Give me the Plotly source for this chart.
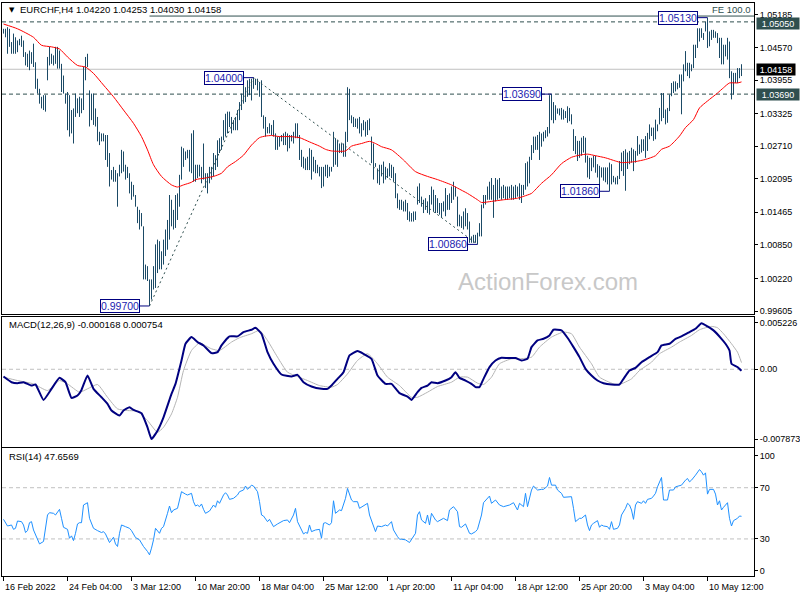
import plotly.graph_objects as go

W, H = 800, 600
FONT = "Liberation Sans, Arial, sans-serif"

# ---------------- data ----------------
SYMBOL = "EURCHF,H4"
LAST_OPEN, LAST_HIGH, LAST_LOW, LAST_CLOSE = 1.04220, 1.04253, 1.04030, 1.04158
MACD_LAST, SIGNAL_LAST = -0.000168, 0.000754
RSI_LAST = 47.6569

HIGH = [
    1.0492, 1.0492, 1.0495, 1.0492, 1.0467, 1.0483, 1.0476, 1.0470, 1.0473, 1.0479,
    1.0470, 1.0448, 1.0445, 1.0451, 1.0448, 1.0464, 1.0429, 1.0398, 1.0379, 1.0364,
    1.0367, 1.0367, 1.0439, 1.0458, 1.0445, 1.0442, 1.0458, 1.0458, 1.0451, 1.0426,
    1.0404, 1.0370, 1.0373, 1.0367, 1.0339, 1.0342, 1.0370, 1.0361, 1.0364, 1.0361,
    1.0420, 1.0439, 1.0445, 1.0376, 1.0370, 1.0370, 1.0342, 1.0326, 1.0298, 1.0295,
    1.0295, 1.0292, 1.0292, 1.0258, 1.0226, 1.0232, 1.0226, 1.0220, 1.0236, 1.0264,
    1.0261, 1.0236, 1.0232, 1.0220, 1.0204, 1.0198, 1.0179, 1.0157, 1.0151, 1.0145,
    1.0120, 1.0048, 1.0045, 1.0020, 1.0020, 1.0045, 1.0086, 1.0095, 1.0092, 1.0073,
    1.0095, 1.0114, 1.0132, 1.0179, 1.0170, 1.0151, 1.0179, 1.0182, 1.0217, 1.0270,
    1.0267, 1.0261, 1.0264, 1.0264, 1.0295, 1.0301, 1.0236, 1.0236, 1.0236, 1.0232,
    1.0276, 1.0220, 1.0220, 1.0232, 1.0232, 1.0258, 1.0254, 1.0282, 1.0286, 1.0289,
    1.0320, 1.0332, 1.0336, 1.0336, 1.0326, 1.0320, 1.0326, 1.0339, 1.0354, 1.0370,
    1.0386, 1.0382, 1.0395, 1.0398, 1.0398, 1.0400, 1.0398, 1.0398, 1.0392, 1.0395,
    1.0329, 1.0326, 1.0307, 1.0314, 1.0311, 1.0320, 1.0295, 1.0289, 1.0289, 1.0292,
    1.0295, 1.0298, 1.0295, 1.0292, 1.0292, 1.0298, 1.0314, 1.0314, 1.0292, 1.0264,
    1.0251, 1.0248, 1.0251, 1.0267, 1.0264, 1.0251, 1.0245, 1.0236, 1.0232, 1.0232,
    1.0232, 1.0236, 1.0236, 1.0232, 1.0232, 1.0298, 1.0286, 1.0282, 1.0276, 1.0276,
    1.0276, 1.0298, 1.0382, 1.0379, 1.0329, 1.0326, 1.0323, 1.0323, 1.0326, 1.0314,
    1.0320, 1.0317, 1.0320, 1.0323, 1.0289, 1.0276, 1.0239, 1.0229, 1.0236, 1.0236,
    1.0242, 1.0232, 1.0229, 1.0239, 1.0236, 1.0232, 1.0220, 1.0182, 1.0170, 1.0170,
    1.0167, 1.0170, 1.0164, 1.0148, 1.0145, 1.0148, 1.0148, 1.0195, 1.0201, 1.0176,
    1.0170, 1.0173, 1.0167, 1.0179, 1.0195, 1.0189, 1.0179, 1.0173, 1.0164, 1.0164,
    1.0167, 1.0192, 1.0179, 1.0182, 1.0195, 1.0204, 1.0195, 1.0176, 1.0142, 1.0139,
    1.0148, 1.0154, 1.0145, 1.0129, 1.0101, 1.0104, 1.0104, 1.0108, 1.0126, 1.0161,
    1.0179, 1.0179, 1.0195, 1.0204, 1.0211, 1.0198, 1.0211, 1.0208, 1.0211, 1.0195,
    1.0198, 1.0195, 1.0195, 1.0195, 1.0198, 1.0195, 1.0198, 1.0195, 1.0201, 1.0198,
    1.0198, 1.0239, 1.0242, 1.0251, 1.0273, 1.0289, 1.0289, 1.0292, 1.0298, 1.0295,
    1.0298, 1.0301, 1.0307, 1.0367, 1.0369, 1.0354, 1.0348, 1.0342, 1.0342, 1.0343,
    1.0340, 1.0337, 1.0346, 1.0343, 1.0331, 1.0303, 1.0290, 1.0281, 1.0281, 1.0287,
    1.0290, 1.0287, 1.0253, 1.0249, 1.0249, 1.0253, 1.0253, 1.0237, 1.0234, 1.0231,
    1.0231, 1.0231, 1.0231, 1.0240, 1.0237, 1.0215, 1.0212, 1.0215, 1.0243, 1.0259,
    1.0262, 1.0265, 1.0259, 1.0262, 1.0268, 1.0265, 1.0262, 1.0290, 1.0274, 1.0284,
    1.0284, 1.0290, 1.0296, 1.0312, 1.0306, 1.0306, 1.0321, 1.0312, 1.0343, 1.0371,
    1.0371, 1.0340, 1.0343, 1.0368, 1.0390, 1.0393, 1.0393, 1.0390, 1.0406, 1.0406,
    1.0425, 1.0450, 1.0428, 1.0428, 1.0425, 1.0462, 1.0462, 1.0493, 1.0493, 1.0493,
    1.0484, 1.0505, 1.0513, 1.0487, 1.0490, 1.0490, 1.0487, 1.0484, 1.0475, 1.0475,
    1.0462, 1.0462, 1.0475, 1.0468, 1.0412, 1.0409, 1.0409, 1.0418, 1.0418, 1.04253,
]
LOW = [
    1.0483, 1.0476, 1.0445, 1.0458, 1.0445, 1.0445, 1.0445, 1.0448, 1.0461, 1.0458,
    1.0439, 1.0423, 1.0420, 1.0414, 1.0426, 1.0420, 1.0379, 1.0370, 1.0351, 1.0342,
    1.0339, 1.0336, 1.0395, 1.0423, 1.0426, 1.0423, 1.0426, 1.0417, 1.0417, 1.0373,
    1.0370, 1.0351, 1.0301, 1.0289, 1.0295, 1.0276, 1.0326, 1.0333, 1.0326, 1.0333,
    1.0339, 1.0395, 1.0420, 1.0308, 1.0320, 1.0311, 1.0308, 1.0280, 1.0273, 1.0280,
    1.0280, 1.0245, 1.0232, 1.0195, 1.0208, 1.0204, 1.0204, 1.0157, 1.0214, 1.0220,
    1.0223, 1.0208, 1.0211, 1.0182, 1.0170, 1.0176, 1.0157, 1.0126, 1.0114, 1.0120,
    1.0020, 1.0020, 1.0017, 0.9970, 0.9982, 1.0001, 1.0004, 1.0032, 1.0039, 1.0039,
    1.0048, 1.0064, 1.0076, 1.0095, 1.0120, 1.0114, 1.0117, 1.0132, 1.0157, 1.0208,
    1.0232, 1.0245, 1.0248, 1.0223, 1.0220, 1.0204, 1.0204, 1.0211, 1.0214, 1.0201,
    1.0208, 1.0192, 1.0182, 1.0201, 1.0208, 1.0214, 1.0226, 1.0232, 1.0258, 1.0264,
    1.0282, 1.0289, 1.0295, 1.0307, 1.0295, 1.0301, 1.0301, 1.0301, 1.0320, 1.0339,
    1.0351, 1.0354, 1.0364, 1.0367, 1.0357, 1.0379, 1.0386, 1.0376, 1.0364, 1.0326,
    1.0304, 1.0289, 1.0295, 1.0295, 1.0292, 1.0289, 1.0264, 1.0264, 1.0270, 1.0280,
    1.0273, 1.0273, 1.0261, 1.0267, 1.0280, 1.0276, 1.0286, 1.0286, 1.0245, 1.0232,
    1.0229, 1.0226, 1.0226, 1.0226, 1.0208, 1.0223, 1.0220, 1.0220, 1.0214, 1.0192,
    1.0195, 1.0214, 1.0211, 1.0214, 1.0223, 1.0232, 1.0236, 1.0232, 1.0258, 1.0258,
    1.0251, 1.0251, 1.0279, 1.0320, 1.0314, 1.0307, 1.0307, 1.0304, 1.0295, 1.0289,
    1.0301, 1.0289, 1.0292, 1.0301, 1.0239, 1.0208, 1.0232, 1.0201, 1.0198, 1.0214,
    1.0201, 1.0208, 1.0211, 1.0214, 1.0211, 1.0204, 1.0173, 1.0154, 1.0151, 1.0151,
    1.0148, 1.0148, 1.0132, 1.0129, 1.0129, 1.0129, 1.0132, 1.0161, 1.0164, 1.0157,
    1.0145, 1.0151, 1.0145, 1.0142, 1.0161, 1.0148, 1.0145, 1.0145, 1.0142, 1.0136,
    1.0148, 1.0139, 1.0151, 1.0151, 1.0164, 1.0170, 1.0176, 1.0120, 1.0120, 1.0117,
    1.0114, 1.0120, 1.0114, 1.0089, 1.0089, 1.0089, 1.0089, 1.0086, 1.0101, 1.0101,
    1.0154, 1.0161, 1.0170, 1.0170, 1.0170, 1.0136, 1.0167, 1.0170, 1.0173, 1.0170,
    1.0173, 1.0170, 1.0170, 1.0173, 1.0170, 1.0170, 1.0173, 1.0176, 1.0170, 1.0164,
    1.0179, 1.0189, 1.0195, 1.0201, 1.0245, 1.0258, 1.0264, 1.0264, 1.0245, 1.0270,
    1.0280, 1.0286, 1.0289, 1.0295, 1.0320, 1.0314, 1.0320, 1.0332, 1.0329, 1.0321,
    1.0321, 1.0324, 1.0315, 1.0318, 1.0312, 1.0262, 1.0256, 1.0243, 1.0249, 1.0253,
    1.0259, 1.0240, 1.0212, 1.0209, 1.0224, 1.0231, 1.0221, 1.0212, 1.0196, 1.0212,
    1.0206, 1.0203, 1.0199, 1.0186, 1.0199, 1.0203, 1.0199, 1.0199, 1.0209, 1.0224,
    1.0215, 1.0187, 1.0228, 1.0237, 1.0240, 1.0224, 1.0240, 1.0253, 1.0256, 1.0259,
    1.0262, 1.0249, 1.0262, 1.0284, 1.0290, 1.0281, 1.0284, 1.0299, 1.0312, 1.0318,
    1.0324, 1.0312, 1.0315, 1.0337, 1.0365, 1.0371, 1.0374, 1.0378, 1.0381, 1.0331,
    1.0393, 1.0412, 1.0403, 1.0399, 1.0412, 1.0418, 1.0437, 1.0456, 1.0468, 1.0475,
    1.0471, 1.0487, 1.0456, 1.0459, 1.0471, 1.0475, 1.0475, 1.0465, 1.0437, 1.0425,
    1.0425, 1.0440, 1.0434, 1.0399, 1.0359, 1.0368, 1.0390, 1.0390, 1.0399, 1.04030,
]

MA_IDX = [0, 7, 15, 19, 24, 28, 32, 37, 41, 45, 50, 55, 60, 65, 69, 72, 75, 79, 84, 87,
          90, 94, 96, 101, 105, 109, 112, 116, 120, 124, 128, 131, 134, 138, 143, 148, 153,
          158, 161, 164, 171, 174, 179, 183, 186, 189, 194, 200, 206, 212, 217, 224, 227,
          232, 237, 239, 244, 250, 257, 262, 264, 269, 274, 279, 284, 288, 292, 296, 301,
          306, 309, 316, 321, 326, 329, 333, 338, 341, 345, 348, 352, 357, 360, 363, 367, 369]
MA_VAL = [1.0501, 1.0492, 1.0476, 1.0461, 1.0458, 1.0454, 1.0439, 1.0423, 1.0420, 1.0408,
          1.0386, 1.0364, 1.0339, 1.0314, 1.0289, 1.0264, 1.0236, 1.0214, 1.0198, 1.0194,
          1.0198, 1.0203, 1.0208, 1.0211, 1.0214, 1.0220, 1.0232, 1.0242, 1.0254, 1.0273,
          1.0287, 1.0290, 1.0291, 1.0289, 1.0289, 1.0287, 1.0279, 1.0271, 1.0265, 1.0262,
          1.0262, 1.0271, 1.0276, 1.0280, 1.0276, 1.0270, 1.0264, 1.0245, 1.0223, 1.0214,
          1.0208, 1.0198, 1.0192, 1.0182, 1.0170, 1.0165, 1.0167, 1.0170, 1.0173, 1.0179,
          1.0182, 1.0201, 1.0217, 1.0238, 1.0250, 1.0254, 1.0256, 1.0253, 1.0249, 1.0243,
          1.0240, 1.0242, 1.0246, 1.0253, 1.0265, 1.0271, 1.0290, 1.0306, 1.0321, 1.0343,
          1.0356, 1.0371, 1.0381, 1.0390, 1.0390, 1.0392]

MACD_IDX = [0, 4, 7, 10, 14, 16, 20, 24, 28, 31, 34, 37, 39, 42, 45, 49, 52, 54, 58, 60,
            63, 65, 69, 72, 74, 77, 80, 84, 86, 89, 91, 94, 97, 100, 104, 107, 109, 113,
            117, 120, 124, 126, 129, 132, 135, 139, 144, 147, 150, 154, 159, 162, 164, 167,
            170, 173, 177, 180, 184, 187, 191, 194, 198, 202, 204, 207, 209, 212, 214, 217,
            221, 224, 226, 228, 231, 234, 236, 238, 240, 243, 246, 249, 252, 256, 259, 262,
            264, 267, 270, 273, 275, 279, 282, 285, 288, 291, 294, 297, 300, 304, 308, 310,
            313, 316, 319, 323, 327, 329, 333, 336, 339, 343, 346, 349, 352, 355, 359, 361,
            363, 364, 367, 369]
MACD_VAL = [-0.00082, -0.00146, -0.00157, -0.00146, -0.00184, -0.00172, -0.00346, -0.00221,
            -0.00097, -0.00146, -0.00323, -0.00297, -0.00233, -0.00070, -0.00221, -0.00316,
            -0.00391, -0.00466, -0.00523, -0.00466, -0.00429, -0.00459, -0.00496, -0.00655,
            -0.00787, -0.00693, -0.00542, -0.00278, -0.00165, 0.00099, 0.00288, 0.00363,
            0.00307, 0.00269, 0.00182, 0.00193, 0.00269, 0.00371, 0.00371, 0.00420, 0.00446,
            0.00469, 0.00401, 0.00193, 0.00062, -0.00059, -0.00082, -0.00063, -0.00146,
            -0.00195, -0.00221, -0.00221, -0.00184, -0.00108, -0.00033, 0.00156, 0.00205,
            0.00175, 0.00118, -0.00070, -0.00165, -0.00165, -0.00270, -0.00308, -0.00346,
            -0.00259, -0.00210, -0.00184, -0.00146, -0.00157, -0.00127, -0.00089, -0.00033,
            -0.00097, -0.00127, -0.00165, -0.00202, -0.00202, -0.00108, 0.00024, 0.00099,
            0.00129, 0.00126, 0.00126, 0.00099, 0.00118, 0.00250, 0.00325, 0.00344, 0.00382,
            0.00446, 0.00439, 0.00356, 0.00250, 0.00137, 0.00005, -0.00070, -0.00127,
            -0.00157, -0.00172, -0.00172, -0.00108, -0.00014, 0.00016, 0.00080, 0.00137,
            0.00193, 0.00269, 0.00288, 0.00344, 0.00371, 0.00420, 0.00457, 0.00520, 0.00484,
            0.00439, 0.00344, 0.00288, 0.00212, 0.00062, 0.00024, -0.000168]

SIG_IDX = [0, 7, 15, 22, 28, 32, 38, 42, 47, 52, 57, 62, 67, 72, 77, 80, 84, 87, 90, 94,
           98, 104, 108, 114, 118, 124, 128, 132, 137, 142, 147, 152, 158, 164, 167, 172,
           177, 182, 187, 192, 198, 204, 207, 212, 217, 224, 228, 232, 237, 240, 244, 248,
           254, 258, 264, 268, 274, 280, 284, 288, 294, 298, 305, 308, 314, 318, 324, 328,
           334, 338, 344, 348, 354, 357, 360, 364, 367, 369]
SIG_VAL = [-0.00089, -0.00127, -0.00165, -0.00240, -0.00127, -0.00165, -0.00259, -0.00221,
           -0.00172, -0.00316, -0.00447, -0.00466, -0.00474, -0.00579, -0.00711, -0.00655,
           -0.00504, -0.00316, -0.00014, 0.00212, 0.00295, 0.00231, 0.00212, 0.00307,
           0.00356, 0.00401, 0.00439, 0.00325, 0.00137, -0.00033, -0.00082, -0.00127,
           -0.00184, -0.00202, -0.00172, -0.00052, 0.00099, 0.00175, 0.00062, -0.00089,
           -0.00184, -0.00316, -0.00316, -0.00259, -0.00195, -0.00146, -0.00089, -0.00089,
           -0.00157, -0.00172, -0.00089, 0.00062, 0.00118, 0.00118, 0.00137, 0.00250,
           0.00363, 0.00420, 0.00401, 0.00250, 0.00062, -0.00089, -0.00165, -0.00172,
           -0.00108, -0.00014, 0.00080, 0.00175, 0.00250, 0.00307, 0.00382, 0.00446,
           0.00484, 0.00469, 0.00401, 0.00288, 0.00193, 0.000754]

RSI_IDX = [0, 1, 2, 4, 5, 6, 7, 9, 10, 11, 12, 13, 14, 15, 17, 18, 20, 21, 22, 23, 25, 26,
           28, 29, 30, 32, 33, 34, 35, 36, 37, 38, 39, 40, 42, 43, 44, 45, 47, 49, 50, 51,
           53, 54, 55, 56, 57, 58, 59, 61, 63, 64, 65, 66, 68, 70, 72, 73, 74, 75, 76, 78,
           79, 80, 82, 83, 84, 85, 87, 88, 89, 91, 92, 94, 95, 96, 97, 98, 99, 100, 101,
           103, 104, 105, 106, 107, 108, 110, 111, 112, 113, 115, 117, 118, 120, 121, 122,
           123, 124, 125, 127, 128, 129, 130, 132, 133, 134, 135, 137, 138, 140, 142, 143,
           145, 146, 147, 149, 150, 151, 152, 153, 154, 156, 158, 159, 160, 161, 163, 164,
           165, 166, 168, 169, 170, 171, 172, 174, 175, 177, 178, 180, 182, 183, 185, 186,
           187, 189, 191, 192, 194, 195, 197, 198,
           199, 201, 203, 204, 206, 207, 208, 209, 211, 212, 213, 214, 216, 217, 219, 220,
           222, 223, 225, 227, 228, 229, 231, 233, 234, 236, 237, 239, 240, 241, 243, 244,
           246, 248, 250, 253, 255, 257, 258, 260, 261, 262, 264, 265, 267, 269, 270, 272,
           273, 274, 276, 277, 279, 280, 282, 284, 285, 286, 288, 289, 291, 292, 293, 294,
           295, 297, 298, 299, 300, 302, 303, 304, 305, 307, 308, 309, 311, 312, 313, 314,
           315, 316, 317, 319, 320, 321, 322, 324, 325, 326, 327, 329, 330, 332, 333, 335,
           336, 338, 339, 341, 342, 343, 344, 346, 348, 349, 350, 351, 352, 353, 355, 356,
           357, 358, 359, 360, 362, 363, 364, 365, 367, 368, 369]
RSI_VAL = [45.3, 42.2, 40.1, 40.9, 37.5, 38.3, 44.0, 43.5, 40.9, 35.0, 36.5, 42.7, 43.5,
           37.0, 30.5, 26.1, 28.0, 39.6, 48.7, 50.5, 50.0, 48.7, 53.1, 46.1, 39.1, 37.5,
           30.5, 32.4, 28.7, 34.4, 41.7, 42.7, 42.7, 56.5, 58.3, 46.1, 42.2, 38.3, 36.5,
           35.0, 35.7, 33.9, 27.2, 29.8, 31.3, 26.1, 24.1, 34.4, 40.9, 39.6, 38.3, 36.5,
           33.9, 31.1, 29.3, 24.1, 20.2, 17.6, 22.8, 29.3, 38.3, 34.4, 38.3, 39.6, 50.0,
           55.7, 50.5, 52.6, 53.9, 61.7, 66.9, 65.0, 64.3, 65.6, 59.1, 55.7, 56.5, 55.2,
           57.3, 53.1, 50.0, 51.8, 53.9, 56.5, 54.7, 59.8, 57.8, 64.3, 66.1, 64.3, 60.9,
           61.7, 64.3, 66.9, 68.2, 71.3, 68.7, 70.7, 72.0, 71.3, 66.9, 59.1, 48.7, 47.9,
           43.5, 45.3, 42.2, 39.6, 41.7, 42.7, 44.3, 44.8, 42.7, 48.7, 53.9, 43.5, 36.5,
           33.9, 35.0, 34.4, 40.9, 35.7, 37.0, 37.5, 30.5, 42.2, 42.7, 40.9, 42.7, 59.8,
           50.0, 52.6, 52.1, 56.5, 61.7, 69.4, 60.4, 59.1, 59.1, 53.9, 55.7, 57.8, 48.7,
           39.6, 35.7, 40.1, 39.6, 40.9, 40.1, 43.5, 37.0, 31.8, 29.8,
           29.8, 29.3, 27.2, 29.8, 34.4, 48.7, 51.3, 44.8, 42.2, 48.7, 40.9, 50.0, 44.8,
           43.5, 45.3, 46.1, 44.3, 52.6, 55.2, 51.3, 39.6, 39.1, 41.7, 34.4, 33.9, 35.7,
           37.5, 48.7, 58.3, 59.8, 63.5, 57.8, 60.4, 56.5, 55.2, 56.5, 58.3, 52.6, 57.8,
           55.2, 65.6, 55.2, 68.2, 71.3, 68.2, 68.7, 68.7, 71.3, 78.0, 72.0, 72.0, 68.2,
           65.6, 62.5, 63.0, 63.0, 53.9, 43.5, 46.1, 46.1, 48.7, 40.9, 36.5, 40.9, 42.2,
           44.3, 39.1, 40.9, 40.1, 39.6, 37.5, 43.5, 37.5, 38.3, 40.9, 48.7, 53.9, 57.8,
           56.5, 52.6, 45.3, 56.5, 59.1, 57.8, 59.8, 57.8, 60.9, 61.7, 63.5, 65.6, 70.7,
           78.0, 60.4, 60.4, 68.2, 68.2, 70.7, 71.3, 72.0, 75.9, 77.2, 74.6, 75.9, 79.8,
           84.2, 82.4, 79.8, 81.6, 65.0, 68.7, 68.7, 65.0, 56.5, 59.8, 52.6, 54.7, 58.3,
           46.1, 40.1, 44.3, 46.1, 47.9, 47.66]

TIME_LABEL_IDX = [0, 32, 64, 96, 128, 160, 192, 224, 256, 288, 320, 352]
TIME_LABELS = ["16 Feb 2022", "24 Feb 04:00", "3 Mar 12:00", "10 Mar 20:00",
               "18 Mar 04:00", "25 Mar 12:00", "1 Apr 20:00", "11 Apr 04:00",
               "18 Apr 12:00", "25 Apr 20:00", "3 May 04:00", "10 May 12:00"]
PRICE_TICKS = [1.05185, 1.04570, 1.03955, 1.03325, 1.02710, 1.02095, 1.01465,
               1.00850, 1.00220, 0.99605]
MACD_TICKS = [0.005226, 0.0, -0.007873]
MACD_TICKTEXT = ["0.005226", "0.00", "-0.007873"]
RSI_LEVELS = [70, 30]

DASHED_LEVELS = [1.0505, 1.0369]
FE_IDX = [73, 125, 237]
FE_PRICE = [0.9970, 1.0400, 1.0086]
FE_LEVEL = 1.0516
LABEL_IDX = [125, 73, 237, 303, 274, 352]
LABEL_PRICE = [1.0400, 0.9970, 1.0086, 1.0186, 1.0369, 1.0513]

# ---------------- styling / layout helpers ----------------
BAR_COLOR = "#1B4A66"
SLATE = "#2F4F4F"
NAVY = "#000080"


def fx(px):
    return px / W


def fy(py):
    return 1 - py / H


X_RANGE = [-0.75, 375.25]      # 2 px per bar
X_DOM = [fx(2), fx(754)]
MAIN_RANGE = [0.99550, 1.05406]
MACD_RANGE = [-0.0087188, 0.0059063]
RSI_RANGE = [1.0, 101.4]

fig = go.Figure()

# price bars (high-low lines)
bx, by = [], []
for i, (h, l) in enumerate(zip(HIGH, LOW)):
    bx += [i, i, None]
    by += [l, h, None]
fig.add_trace(go.Scatter(x=bx, y=by, mode="lines", line=dict(color=BAR_COLOR, width=1),
                         xaxis="x", yaxis="y", hoverinfo="skip", showlegend=False))
# moving average
fig.add_trace(go.Scatter(x=MA_IDX, y=MA_VAL, mode="lines",
                         line=dict(color="#FF0000", width=1, shape="spline", smoothing=0.6),
                         xaxis="x", yaxis="y", hoverinfo="skip", showlegend=False))
# Fibonacci expansion dotted lines
fig.add_trace(go.Scatter(x=FE_IDX, y=FE_PRICE, mode="lines",
                         line=dict(color=SLATE, width=1, dash="2px,3px"),
                         xaxis="x", yaxis="y", hoverinfo="skip", showlegend=False))

# MACD
fig.add_trace(go.Scatter(x=SIG_IDX, y=SIG_VAL, mode="lines",
                         line=dict(color="#B4B4B4", width=1, shape="spline", smoothing=0.5),
                         xaxis="x2", yaxis="y2", hoverinfo="skip", showlegend=False))
fig.add_trace(go.Scatter(x=MACD_IDX, y=MACD_VAL, mode="lines",
                         line=dict(color=NAVY, width=2, shape="spline", smoothing=0.4),
                         xaxis="x2", yaxis="y2", hoverinfo="skip", showlegend=False))
# RSI
fig.add_trace(go.Scatter(x=RSI_IDX, y=RSI_VAL, mode="lines",
                         line=dict(color="#1E90FF", width=1),
                         xaxis="x3", yaxis="y3", hoverinfo="skip", showlegend=False))

shapes = []
for lvl in DASHED_LEVELS:
    shapes.append(dict(type="line", xref="paper", yref="y", x0=X_DOM[0], x1=X_DOM[1],
                       y0=lvl, y1=lvl, line=dict(color=SLATE, width=1, dash="4px,3px"),
                       layer="below"))
shapes.append(dict(type="line", xref="paper", yref="y", x0=X_DOM[0], x1=X_DOM[1],
                   y0=LAST_CLOSE, y1=LAST_CLOSE, line=dict(color="#C0C0C0", width=1),
                   layer="below"))
shapes.append(dict(type="line", xref="x", yref="y", x0=FE_IDX[0], x1=X_RANGE[1],
                   y0=FE_LEVEL, y1=FE_LEVEL, line=dict(color=SLATE, width=1)))
shapes.append(dict(type="line", xref="paper", yref="y2", x0=X_DOM[0], x1=X_DOM[1],
                   y0=0, y1=0, line=dict(color="#C0C0C0", width=1, dash="4px,3px"),
                   layer="below"))
for lvl in RSI_LEVELS:
    shapes.append(dict(type="line", xref="paper", yref="y3", x0=X_DOM[0], x1=X_DOM[1],
                       y0=lvl, y1=lvl, line=dict(color="#C0C0C0", width=1, dash="4px,3px"),
                       layer="below"))
# connectors from price labels to bars
for idx, p in zip(LABEL_IDX, LABEL_PRICE):
    shapes.append(dict(type="line", xref="x", yref="y", x0=idx - 5, x1=idx, y0=p, y1=p,
                       line=dict(color=NAVY, width=1)))

ann = []
for idx, p in zip(LABEL_IDX, LABEL_PRICE):
    ann.append(dict(x=idx - 5, y=p, xref="x", yref="y", xanchor="right", yanchor="middle",
                    text=f"{p:.5f}", showarrow=False, bgcolor="white", bordercolor=NAVY,
                    borderwidth=1, borderpad=0,
                    font=dict(family=FONT, size=10.5, color="#1C1CB0")))
# highlighted price-scale labels
for p, bg, ys in [(DASHED_LEVELS[0], SLATE, -1.5), (DASHED_LEVELS[1], SLATE, 0),
                  (LAST_CLOSE, "#000000", 0)]:
    ann.append(dict(x=fx(756), y=p, xref="paper", yref="y", xanchor="left", yanchor="middle",
                    text=f"{p:.5f}", showarrow=False, bgcolor=bg, borderpad=0, yshift=ys,
                    width=42 if bg == SLATE else 38, height=11, align="center",
                    font=dict(family=FONT, size=9, color="white")))
# header
ann.append(dict(x=fx(7), y=fy(10), xref="paper", yref="paper", xanchor="left",
                yanchor="middle", text="▼", showarrow=False,
                font=dict(family="DejaVu Sans", size=7, color="black")))
ann.append(dict(x=fx(18), y=fy(10), xref="paper", yref="paper", xanchor="left",
                yanchor="middle", showarrow=False,
                text=f"{SYMBOL} {LAST_OPEN:.5f} {LAST_HIGH:.5f} {LAST_LOW:.5f} {LAST_CLOSE:.5f}",
                font=dict(family=FONT, size=9.5, color="black")))
ann.append(dict(x=fx(753), y=FE_LEVEL, xref="paper", yref="y", xanchor="right",
                yanchor="bottom", yshift=-1, text="FE 100.0", showarrow=False,
                font=dict(family=FONT, size=9.5, color=SLATE)))
ann.append(dict(x=fx(7), y=fy(326), xref="paper", yref="paper", xanchor="left",
                yanchor="middle", showarrow=False,
                text=f"MACD(12,26,9) {MACD_LAST:.6f} {SIGNAL_LAST:.6f}",
                font=dict(family=FONT, size=9.5, color="black")))
ann.append(dict(x=fx(7), y=fy(458), xref="paper", yref="paper", xanchor="left",
                yanchor="middle", showarrow=False, text=f"RSI(14) {RSI_LAST:.4f}",
                font=dict(family=FONT, size=9.5, color="black")))
# watermark
ann.append(dict(x=fx(548), y=fy(282), xref="paper", yref="paper", xanchor="center",
                yanchor="middle", showarrow=False, text="ActionForex.com",
                font=dict(family=FONT, size=24, color="#C8C8C8")))
# time labels
for idx, t in zip(TIME_LABEL_IDX, TIME_LABELS):
    ann.append(dict(x=idx, y=fy(589), xref="x3", yref="paper", xanchor="left",
                    yanchor="middle", showarrow=False, text=t, xshift=-1,
                    font=dict(family=FONT, size=9, color="black")))

axis_common = dict(showgrid=False, zeroline=False, showline=True, mirror=True,
                   linecolor="black", linewidth=1, fixedrange=True)
tickfont = dict(family=FONT, size=9, color="black")

fig.update_layout(
    width=W, height=H, margin=dict(l=0, r=0, t=0, b=0),
    paper_bgcolor="white", plot_bgcolor="white", showlegend=False, hovermode=False,
    xaxis=dict(domain=X_DOM, range=X_RANGE, anchor="y", showticklabels=False, ticks="",
               **axis_common),
    xaxis2=dict(domain=X_DOM, range=X_RANGE, anchor="y2", showticklabels=False, ticks="",
                **axis_common),
    xaxis3=dict(domain=X_DOM, range=X_RANGE, anchor="y3", showticklabels=False,
                ticks="outside", tickvals=TIME_LABEL_IDX, ticklen=4, tickcolor="black",
                **axis_common),
    yaxis=dict(domain=[fy(315), fy(3)], range=MAIN_RANGE, anchor="x", side="right",
               tickvals=PRICE_TICKS, ticktext=[f"{v:.5f}" for v in PRICE_TICKS],
               ticks="outside", ticklen=3, tickcolor="black", tickfont=tickfont,
               **axis_common),
    yaxis2=dict(domain=[fy(448), fy(318)], range=MACD_RANGE, anchor="x2", side="right",
                tickvals=MACD_TICKS, ticktext=MACD_TICKTEXT, ticks="outside", ticklen=3,
                tickcolor="black", tickfont=tickfont, **axis_common),
    yaxis3=dict(domain=[fy(578), fy(449)], range=RSI_RANGE, anchor="x3", side="right",
                tickvals=[95, 70, 30, 5], ticktext=["100", "70", "30", "0"],
                ticks="outside", ticklen=3, tickcolor="black", tickfont=tickfont,
                **axis_common),
    shapes=shapes, annotations=ann,
)

fig.write_html("out.html", config={"displayModeBar": False},
               post_script="document.body.style.margin='0';document.body.style.overflow='hidden';")
